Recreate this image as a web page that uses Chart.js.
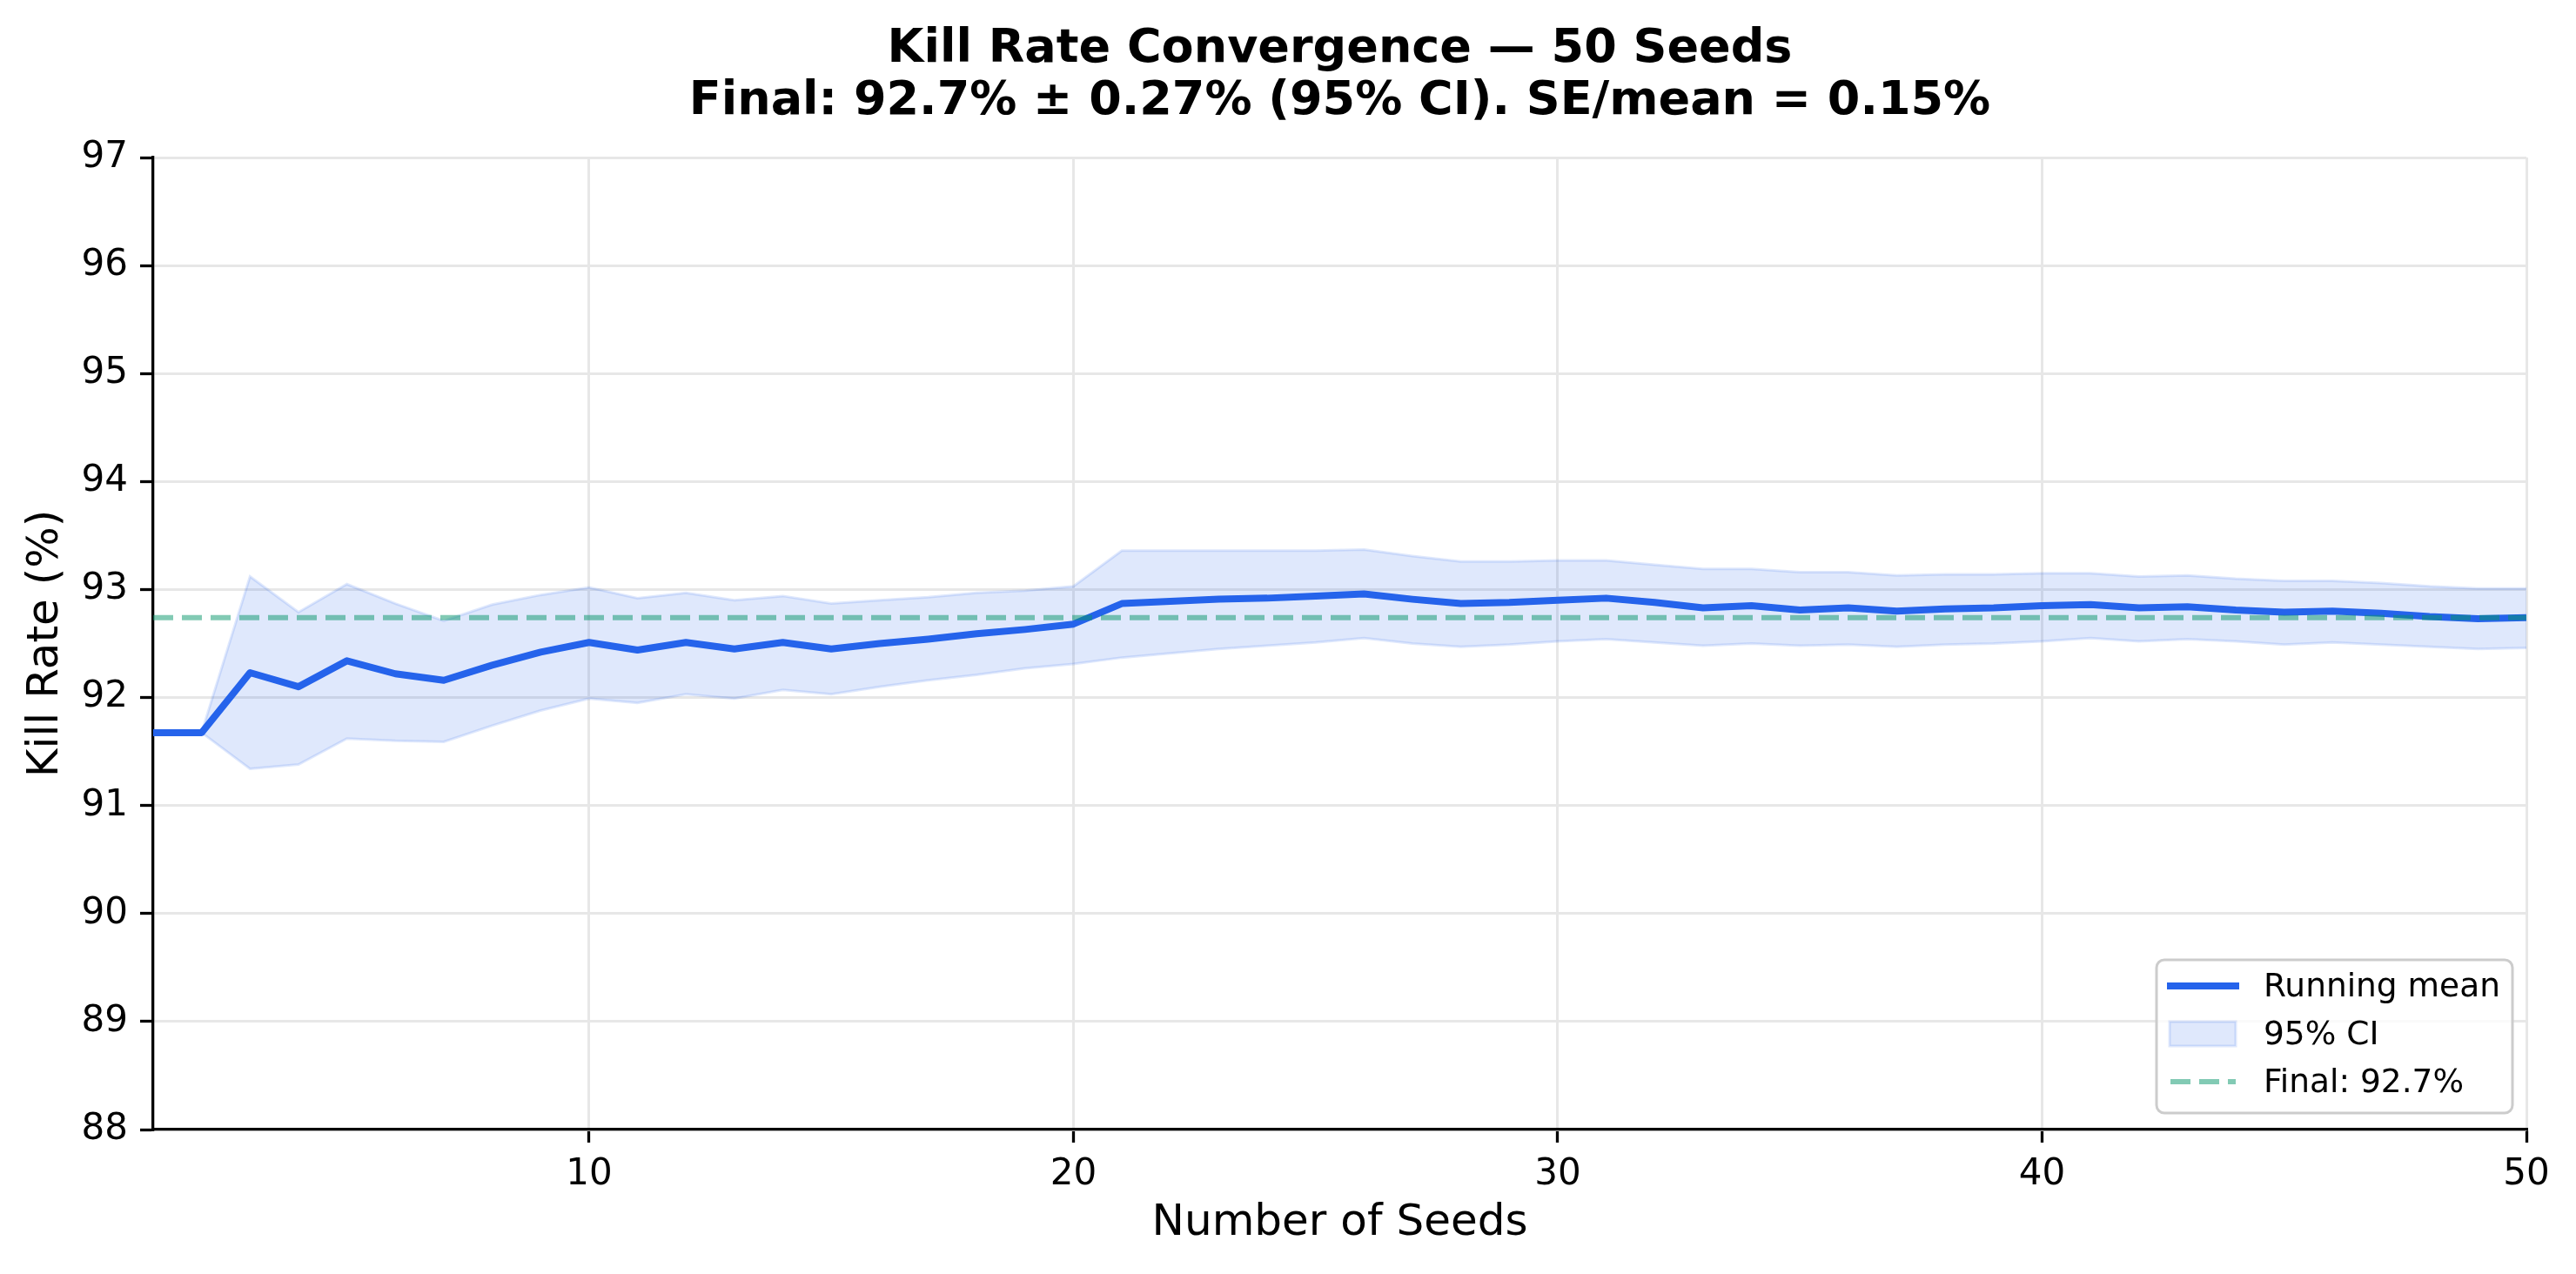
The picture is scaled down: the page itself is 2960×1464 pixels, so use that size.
<!DOCTYPE html>
<html>
<head>
<meta charset="utf-8">
<title>Kill Rate Convergence</title>
<script src="https://cdn.jsdelivr.net/npm/chart.js@4"></script>
<style>
  html, body { margin: 0; padding: 0; background: #ffffff; }
  #chart { display: block; }
</style>
</head>
<body>
<canvas id="chart" width="2960" height="1464"></canvas>
<script>
// ===== data =====
const seeds = [1, 2, 3, 4, 5, 6, 7, 8, 9, 10,
  11, 12, 13, 14, 15, 16, 17, 18, 19, 20,
  21, 22, 23, 24, 25, 26, 27, 28, 29, 30,
  31, 32, 33, 34, 35, 36, 37, 38, 39, 40,
  41, 42, 43, 44, 45, 46, 47, 48, 49, 50];

const runningMean = [91.675, 91.675, 92.23, 92.10, 92.34, 92.22, 92.16, 92.30, 92.42, 92.51,
  92.44, 92.51, 92.45, 92.51, 92.45, 92.50, 92.54, 92.59, 92.63, 92.68,
  92.87, 92.89, 92.91, 92.92, 92.94, 92.96, 92.91, 92.87, 92.88, 92.90,
  92.92, 92.88, 92.83, 92.85, 92.81, 92.83, 92.80, 92.82, 92.83, 92.85,
  92.86, 92.83, 92.84, 92.81, 92.79, 92.80, 92.78, 92.75, 92.73, 92.74];

const ciUpper = [null, 91.675, 93.12, 92.79, 93.05, 92.87, 92.71, 92.86, 92.95, 93.02,
  92.92, 92.97, 92.90, 92.94, 92.87, 92.90, 92.93, 92.97, 92.99, 93.03,
  93.36, 93.36, 93.36, 93.36, 93.36, 93.37, 93.31, 93.26, 93.26, 93.27,
  93.27, 93.23, 93.19, 93.19, 93.16, 93.16, 93.13, 93.14, 93.14, 93.15,
  93.15, 93.12, 93.13, 93.10, 93.08, 93.08, 93.06, 93.03, 93.01, 93.01];

const ciLower = [null, 91.675, 91.34, 91.38, 91.62, 91.60, 91.59, 91.74, 91.88, 91.99,
  91.95, 92.03, 91.99, 92.07, 92.03, 92.10, 92.16, 92.21, 92.27, 92.31,
  92.37, 92.41, 92.45, 92.48, 92.51, 92.55, 92.50, 92.47, 92.49, 92.52,
  92.54, 92.51, 92.48, 92.50, 92.48, 92.49, 92.47, 92.49, 92.50, 92.52,
  92.55, 92.52, 92.54, 92.52, 92.49, 92.51, 92.49, 92.47, 92.45, 92.46];

const finalMean = 92.74;
const xTickValues = [10, 20, 30, 40, 50];
const yMin = 88;
const yMax = 97;

const titleLines = [
  "Kill Rate Convergence \u2014 50 Seeds",
  "Final: 92.7% \u00b1 0.27% (95% CI). SE/mean = 0.15%"
];

// ===== style =====
const BLUE = "#2563eb";
const BAND = "rgba(37, 99, 235, 0.15)";
const GREEN = "rgba(5, 150, 105, 0.5)";
const GRID = "#e7e7e7";
const FONT = "DejaVu Sans";

Chart.defaults.font.family = FONT;
Chart.defaults.color = "#000000";

const toPoints = (ys) => seeds.map((s, i) => ({ x: s, y: ys[i] }));

// title drawn over the plot area (matplotlib centres it on the axes)
const titlePlugin = {
  id: "mplTitle",
  afterDraw(chart) {
    const ctx = chart.ctx;
    const area = chart.chartArea;
    const cx = (area.left + area.right) / 2;
    ctx.save();
    ctx.fillStyle = "#000";
    ctx.font = "bold 54px '" + FONT + "'";
    ctx.textAlign = "center";
    ctx.textBaseline = "alphabetic";
    ctx.fillText(titleLines[0], cx, 71);
    ctx.fillText(titleLines[1], cx, 131);
    ctx.restore();
  }
};

// legend inside the axes, lower right
const legendPlugin = {
  id: "mplLegend",
  afterDraw(chart) {
    const ctx = chart.ctx;
    const area = chart.chartArea;
    const w = 409, h = 176;
    const left = area.right - 16 - w;
    const top = area.bottom - 19 - h;
    const ds = chart.data.datasets;

    ctx.save();
    // box
    ctx.beginPath();
    ctx.roundRect(left, top, w, h, 9);
    ctx.fillStyle = "rgba(255,255,255,0.8)";
    ctx.fill();
    ctx.lineWidth = 3;
    ctx.strokeStyle = "#cccccc";
    ctx.stroke();

    const hx0 = left + 12, hx1 = left + 95, tx = left + 123;
    const rows = [top + 30, top + 85, top + 140];

    // running mean
    ctx.beginPath();
    ctx.moveTo(hx0, rows[0]);
    ctx.lineTo(hx1, rows[0]);
    ctx.lineWidth = 8;
    ctx.strokeStyle = BLUE;
    ctx.lineCap = "butt";
    ctx.stroke();

    // CI patch
    ctx.fillStyle = BAND;
    ctx.fillRect(hx0 + 3, rows[1] - 14, 76, 28);
    ctx.lineWidth = 3;
    ctx.strokeStyle = BAND;
    ctx.strokeRect(hx0 + 3, rows[1] - 14, 76, 28);

    // final dashed
    ctx.beginPath();
    ctx.setLineDash([23, 10]);
    ctx.moveTo(hx0 + 4, rows[2]);
    ctx.lineTo(hx1 - 4, rows[2]);
    ctx.lineWidth = 6;
    ctx.strokeStyle = GREEN;
    ctx.stroke();
    ctx.setLineDash([]);

    // labels
    ctx.fillStyle = "#000";
    ctx.font = "37.5px '" + FONT + "'";
    ctx.textAlign = "left";
    ctx.textBaseline = "middle";
    ctx.fillText(ds[0].label, tx, rows[0] + 2);
    ctx.fillText(ds[1].label, tx, rows[1] + 2);
    ctx.fillText(ds[3].label, tx, rows[2] + 2);
    ctx.restore();
  }
};

const axisCommon = {
  grid: { color: GRID, lineWidth: 3, tickColor: "#000", tickLength: 15, tickWidth: 3.3, drawTicks: true },
  border: { display: true, color: "#000", width: 3.3 },
};

new Chart(document.getElementById("chart").getContext("2d"), {
  type: "line",
  data: {
    datasets: [
      {
        label: "Running mean",
        data: toPoints(runningMean),
        borderColor: BLUE,
        borderWidth: 8,
        borderJoinStyle: "round",
        pointRadius: 0,
        fill: false,
        tension: 0,
        order: 1
      },
      {
        label: "95% CI",
        data: toPoints(ciUpper),
        borderColor: BAND,
        borderWidth: 3,
        backgroundColor: BAND,
        pointRadius: 0,
        fill: "+1",
        tension: 0,
        order: 2
      },
      {
        label: "95% CI lower",
        data: toPoints(ciLower),
        borderColor: BAND,
        borderWidth: 3,
        pointRadius: 0,
        fill: false,
        tension: 0,
        order: 3
      },
      {
        label: "Final: " + finalMean.toFixed(1) + "%",
        data: [{ x: seeds[0], y: finalMean }, { x: seeds[seeds.length - 1], y: finalMean }],
        borderColor: GREEN,
        borderWidth: 6,
        borderDash: [23, 10],
        borderCapStyle: "butt",
        pointRadius: 0,
        fill: false,
        order: 0
      }
    ]
  },
  options: {
    responsive: false,
    devicePixelRatio: 1,
    animation: false,
    layout: { padding: { top: 181, right: 57, bottom: 0, left: 0 } },
    plugins: {
      legend: { display: false },
      tooltip: { enabled: false },
      title: { display: false }
    },
    scales: {
      x: {
        type: "linear",
        min: seeds[0],
        max: seeds[seeds.length - 1],
        afterBuildTicks(scale) {
          scale.ticks = xTickValues.map(v => ({ value: v }));
        },
        ticks: { font: { size: 42 }, color: "#000", padding: 12, maxRotation: 0, autoSkip: false },
        grid: axisCommon.grid,
        border: axisCommon.border,
        title: {
          display: true,
          text: "Number of Seeds",
          font: { size: 50 },
          color: "#000",
          padding: { top: 0, bottom: 28 }
        },
        afterFit(scale) { scale.height = 166; }
      },
      y: {
        type: "linear",
        min: yMin,
        max: yMax,
        ticks: { stepSize: 1, font: { size: 42 }, color: "#000", padding: 14 },
        grid: axisCommon.grid,
        border: axisCommon.border,
        title: {
          display: true,
          text: "Kill Rate (%)",
          font: { size: 50 },
          color: "#000",
          padding: { top: 23, bottom: 0 }
        },
        afterFit(scale) { scale.width = 176; }
      }
    }
  },
  plugins: [titlePlugin, legendPlugin]
});
</script>
</body>
</html>
